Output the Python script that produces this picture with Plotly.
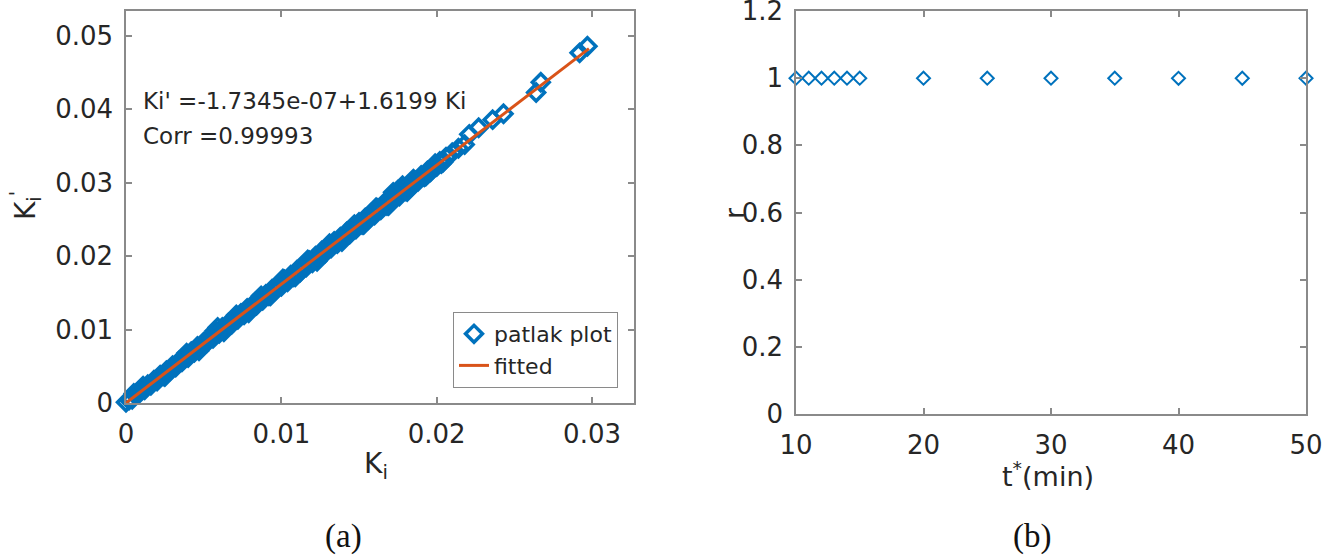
import plotly.graph_objects as go

W, H = 1339, 557

# ---------------- data: panel (a) ----------------
ki = [0.0000, 0.0002, 0.0004, 0.0006, 0.0008, 0.0010, 0.0012, 0.0014, 0.0016, 0.0018,
      0.0020, 0.0022, 0.0024, 0.0026, 0.0028, 0.0030, 0.0032, 0.0034, 0.0036, 0.0038,
      0.0040, 0.0042, 0.0044, 0.0046, 0.0048, 0.0050, 0.0052, 0.0054, 0.0056, 0.0058,
      0.0060, 0.0062, 0.0064, 0.0066, 0.0068, 0.0070, 0.0072, 0.0074, 0.0076, 0.0078,
      0.0080, 0.0082, 0.0084, 0.0086, 0.0088, 0.0090, 0.0092, 0.0094, 0.0096, 0.0098,
      0.0100, 0.0102, 0.0104, 0.0106, 0.0108, 0.0110, 0.0112, 0.0114, 0.0116, 0.0118,
      0.0120, 0.0122, 0.0124, 0.0126, 0.0128, 0.0130, 0.0132, 0.0134, 0.0136, 0.0138,
      0.0140, 0.0142, 0.0144, 0.0146, 0.0148, 0.0150, 0.0152, 0.0154, 0.0156, 0.0158,
      0.0160, 0.0162, 0.0164, 0.0166, 0.0168, 0.0170, 0.0172, 0.0174, 0.0176, 0.0178,
      0.0180, 0.0182, 0.0184, 0.0186, 0.0188, 0.0190, 0.0192, 0.0194, 0.0196, 0.0198,
      0.0200, 0.0202, 0.0204, 0.0206, 0.0210, 0.0214, 0.0218, 0.0221, 0.0227, 0.0236,
      0.0243, 0.0264, 0.0267, 0.0292, 0.0297,
      0.0011, 0.0025, 0.0039, 0.0047, 0.0057, 0.0063, 0.0071, 0.0079, 0.0087, 0.0093,
      0.0101, 0.0109, 0.0117, 0.0123, 0.0131, 0.0139, 0.0147, 0.0153, 0.0161, 0.0169,
      0.0175, 0.0181, 0.0185, 0.0193, 0.0199, 0.0203, 0.0059, 0.0172, 0.0178, 0.0005]
ki_prime = [0.0001, 0.0004, 0.0005, 0.0011, 0.0012, 0.0018, 0.0018, 0.0025, 0.0024, 0.0031,
            0.0030, 0.0038, 0.0037, 0.0044, 0.0043, 0.0051, 0.0049, 0.0057, 0.0056, 0.0064,
            0.0062, 0.0070, 0.0069, 0.0077, 0.0075, 0.0083, 0.0082, 0.0090, 0.0088, 0.0096,
            0.0095, 0.0103, 0.0101, 0.0109, 0.0107, 0.0116, 0.0114, 0.0122, 0.0120, 0.0129,
            0.0127, 0.0135, 0.0133, 0.0142, 0.0140, 0.0148, 0.0146, 0.0155, 0.0153, 0.0161,
            0.0159, 0.0168, 0.0165, 0.0174, 0.0172, 0.0181, 0.0178, 0.0187, 0.0185, 0.0194,
            0.0191, 0.0200, 0.0198, 0.0207, 0.0204, 0.0213, 0.0211, 0.0220, 0.0217, 0.0226,
            0.0224, 0.0233, 0.0230, 0.0239, 0.0237, 0.0246, 0.0243, 0.0252, 0.0250, 0.0259,
            0.0256, 0.0265, 0.0263, 0.0272, 0.0269, 0.0278, 0.0276, 0.0285, 0.0282, 0.0291,
            0.0289, 0.0297, 0.0295, 0.0303, 0.0302, 0.0310, 0.0308, 0.0316, 0.0315, 0.0322,
            0.0322, 0.0329, 0.0328, 0.0335, 0.0341, 0.0347, 0.0352, 0.0366, 0.0375, 0.0386,
            0.0394, 0.0423, 0.0437, 0.0477, 0.0486,
            0.0023, 0.0036, 0.0068, 0.0071, 0.0098, 0.0097, 0.0120, 0.0123, 0.0146, 0.0146,
            0.0169, 0.0172, 0.0195, 0.0193, 0.0217, 0.0220, 0.0243, 0.0243, 0.0266, 0.0269,
            0.0290, 0.0288, 0.0305, 0.0309, 0.0326, 0.0326, 0.0103, 0.0287, 0.0296, 0.0013]

fit_intercept = -1.7345e-07
fit_slope = 1.6199
fit_ki = [0.0, 0.0298]
fit_ki_prime = [fit_intercept + fit_slope * v for v in fit_ki]

# ---------------- data: panel (b) ----------------
t_star = [10, 11, 12, 13, 14, 15, 20, 25, 30, 35, 40, 45, 50]
r_vals = [1.0, 1.0, 1.0, 1.0, 1.0, 1.0, 1.0, 1.0, 1.0, 0.9999, 0.9995, 0.9997, 1.0]

BLUE = "#0072BD"
ORANGE = "#D95319"
AXC = "#8a8a8a"
TXT = "#262626"
FONT = "DejaVu Sans"


def px_x(p):
    return p / W


def px_y(p):
    return 1 - p / H


fig = go.Figure()

fig.add_trace(go.Scatter(
    x=ki, y=ki_prime, mode="markers", name="patlak plot",
    marker=dict(symbol="diamond-open", size=13, color=BLUE, line=dict(width=3.5, color=BLUE)),
    xaxis="x", yaxis="y", cliponaxis=False))
fig.add_trace(go.Scatter(
    x=fit_ki, y=fit_ki_prime, mode="lines", name="fitted",
    line=dict(color=ORANGE, width=3), xaxis="x", yaxis="y"))
fig.add_trace(go.Scatter(
    x=t_star, y=r_vals, mode="markers", showlegend=False,
    marker=dict(symbol="diamond-open", size=10, color=BLUE, line=dict(width=2, color=BLUE)),
    xaxis="x2", yaxis="y2", cliponaxis=False))

axis_common = dict(
    showgrid=False, zeroline=False, showline=True, linecolor=AXC, linewidth=1.5,
    mirror="allticks", ticks="inside", ticklen=6, tickcolor=AXC, tickwidth=1.5,
    tickfont=dict(family=FONT, size=26, color=TXT), automargin=False,
    ticklabeloverflow="allow",
)

fig.update_layout(
    width=W, height=H,
    margin=dict(l=0, r=0, t=0, b=0, autoexpand=False),
    paper_bgcolor="white", plot_bgcolor="white",
    xaxis=dict(domain=[px_x(126), px_x(634)], range=[0, 0.0327],
               tickvals=[0, 0.01, 0.02, 0.03], ticktext=["0", "0.01", "0.02", "0.03"],
               anchor="y", ticklabelstandoff=7, **axis_common),
    yaxis=dict(domain=[px_y(403), px_y(11)], range=[0, 0.0534],
               tickvals=[0, 0.01, 0.02, 0.03, 0.04, 0.05],
               ticktext=["0", "0.01", "0.02", "0.03", "0.04", "0.05"],
               anchor="x", ticklabelstandoff=6, **axis_common),
    xaxis2=dict(domain=[px_x(796), px_x(1306)], range=[10, 50],
                tickvals=[10, 20, 30, 40, 50], anchor="y2", ticklabelstandoff=7, **axis_common),
    yaxis2=dict(domain=[px_y(414), px_y(11)], range=[0, 1.2],
                tickvals=[0, 0.2, 0.4, 0.6, 0.8, 1.0, 1.2],
                ticktext=["0", "0.2", "0.4", "0.6", "0.8", "1", "1.2"],
                anchor="x2", ticklabelstandoff=6, **axis_common),
    legend=dict(x=px_x(618), y=px_y(388), xanchor="right", yanchor="bottom",
                bgcolor="white", bordercolor=AXC, borderwidth=1,
                font=dict(family=FONT, size=22, color=TXT),
                itemwidth=30, tracegroupgap=0),
    showlegend=True,
)

ann = [
    dict(x=px_x(141), y=px_y(101), text="Ki' =-1.7345e-07+1.6199 Ki", xanchor="left", yanchor="middle",
         font=dict(family=FONT, size=23, color=TXT)),
    dict(x=px_x(141), y=px_y(136), text="Corr =0.99993", xanchor="left", yanchor="middle",
         font=dict(family=FONT, size=23, color=TXT)),
    dict(x=px_x(376), y=px_y(465), text="K<sub>i</sub>", xanchor="center", yanchor="middle",
         font=dict(family=FONT, size=28, color=TXT)),
    dict(x=px_x(26), y=px_y(205), text="K<sub>i</sub><sup>'</sup>", xanchor="center", yanchor="middle",
         textangle=-90, font=dict(family=FONT, size=28, color=TXT)),
    dict(x=px_x(734), y=px_y(213), text="r", xanchor="center", yanchor="middle",
         textangle=-90, font=dict(family=FONT, size=27, color=TXT)),
    dict(x=px_x(1048), y=px_y(474), text="t<sup>*</sup>(min)", xanchor="center", yanchor="middle",
         font=dict(family=FONT, size=27, color=TXT)),
    dict(x=px_x(343), y=px_y(536), text="(a)", xanchor="center", yanchor="middle",
         font=dict(family="Liberation Serif", size=33, color="#111111")),
    dict(x=px_x(1032), y=px_y(536), text="(b)", xanchor="center", yanchor="middle",
         font=dict(family="Liberation Serif", size=33, color="#111111")),
]
for a in ann:
    a.update(xref="paper", yref="paper", showarrow=False)
fig.update_layout(annotations=ann)

fig.write_html(
    "out.html",
    config={"displayModeBar": False},
    post_script="document.body.style.margin='0';document.body.style.padding='0';"
                "document.documentElement.style.overflow='hidden';",
)
